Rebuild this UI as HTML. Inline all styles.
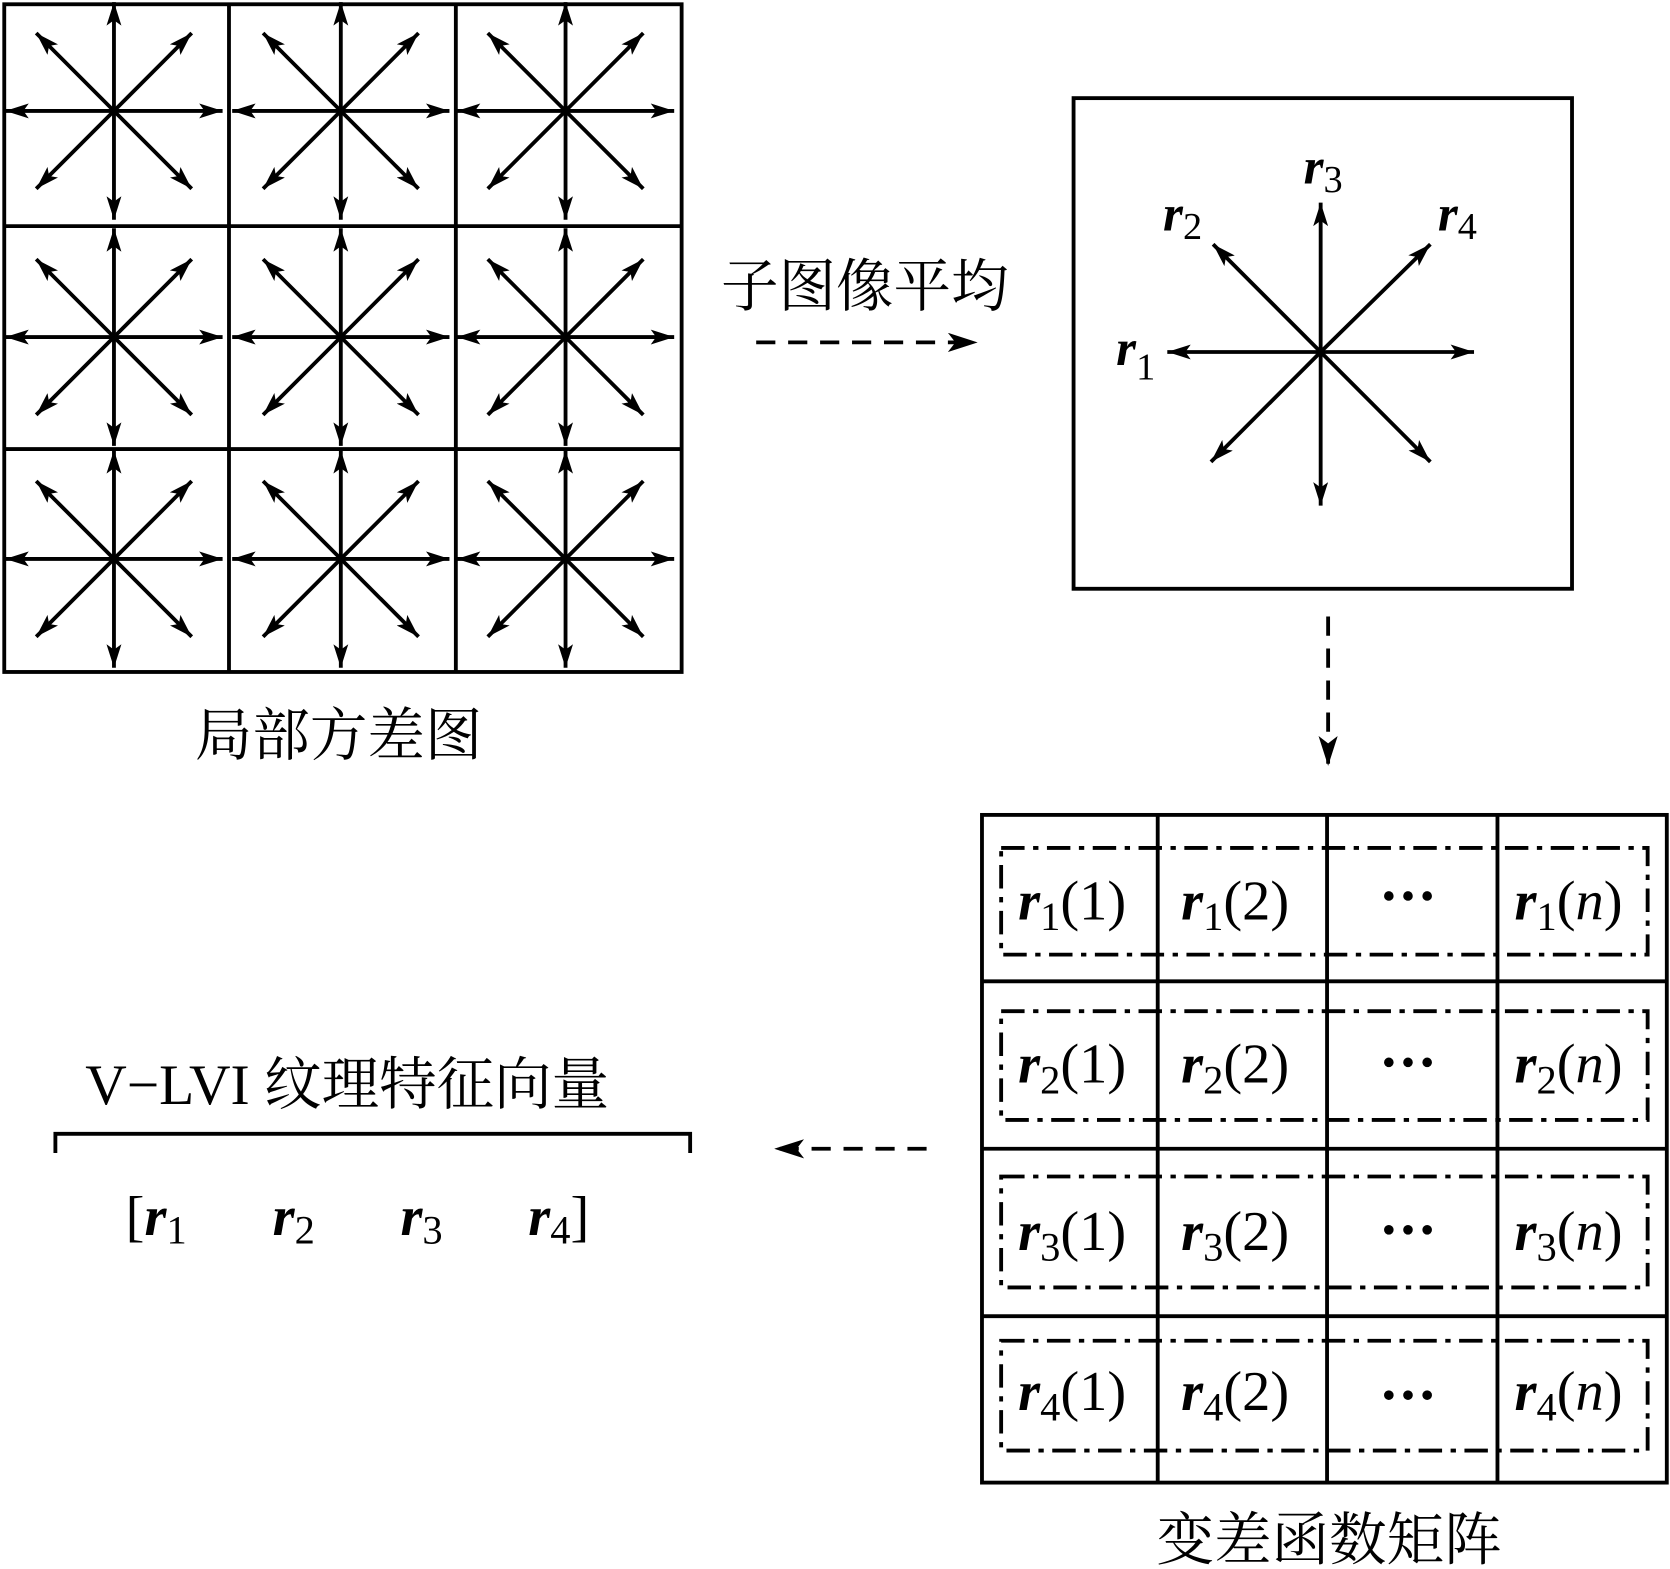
<!DOCTYPE html>
<html><head><meta charset="utf-8"><style>
html,body{margin:0;padding:0;background:#fff}
svg{display:block}
text{font-family:"Liberation Serif","Noto Serif CJK SC",serif;fill:#000}
.cjk{font-family:"Liberation Serif","Noto Serif CJK SC","Noto Sans CJK SC",serif}
.r{font-weight:bold;font-style:italic}
</style></head><body>
<svg width="1670" height="1569" viewBox="0 0 1568 1471" preserveAspectRatio="none" xmlns="http://www.w3.org/2000/svg">
<defs>
<marker id="a" viewBox="0 0 22 14" refX="22" refY="7" markerWidth="22" markerHeight="14" markerUnits="userSpaceOnUse" orient="auto"><path d="M0,0 L22,7 L0,14 L5,7 Z" fill="#000"/></marker>
<marker id="b" viewBox="0 0 28 18" refX="28" refY="9" markerWidth="28" markerHeight="18" markerUnits="userSpaceOnUse" orient="auto"><path d="M0,0 L28,9 L0,18 L7,9 Z" fill="#000"/></marker>
<g id="star" stroke="#000" stroke-width="3.6" fill="none">
<line x1="0" y1="0" x2="102" y2="0" marker-end="url(#a)"/>
<line x1="0" y1="0" x2="-102" y2="0" marker-end="url(#a)"/>
<line x1="0" y1="0" x2="0" y2="102" marker-end="url(#a)"/>
<line x1="0" y1="0" x2="0" y2="-102" marker-end="url(#a)"/>
<line x1="0" y1="0" x2="73" y2="73" marker-end="url(#a)"/>
<line x1="0" y1="0" x2="-73" y2="73" marker-end="url(#a)"/>
<line x1="0" y1="0" x2="73" y2="-73" marker-end="url(#a)"/>
<line x1="0" y1="0" x2="-73" y2="-73" marker-end="url(#a)"/>
</g>
<g id="dots" fill="#000"><circle cx="-18" cy="0" r="4.5"/><circle cx="0" cy="0" r="4.5"/><circle cx="18" cy="0" r="4.5"/></g>
</defs>
<g stroke="#000" stroke-width="3.6" fill="none">
<rect x="4" y="4" width="636" height="626"/>
<line x1="215" y1="4" x2="215" y2="630"/><line x1="428" y1="4" x2="428" y2="630"/>
<line x1="4" y1="212" x2="640" y2="212"/><line x1="4" y1="421" x2="640" y2="421"/>
</g>
<use href="#star" x="107" y="104"/><use href="#star" x="320" y="104"/><use href="#star" x="531" y="104"/>
<use href="#star" x="107" y="316"/><use href="#star" x="320" y="316"/><use href="#star" x="531" y="316"/>
<use href="#star" x="107" y="524"/><use href="#star" x="320" y="524"/><use href="#star" x="531" y="524"/>
<text x="318" y="708" font-size="54" text-anchor="middle" class="cjk">局部方差图</text>
<text x="812" y="287" font-size="54" text-anchor="middle" class="cjk">子图像平均</text>
<line x1="710" y1="321" x2="918" y2="321" stroke="#000" stroke-width="3.6" stroke-dasharray="18,12" marker-end="url(#b)"/>
<rect x="1008" y="92" width="468" height="460" stroke="#000" stroke-width="3.6" fill="none"/>
<g stroke="#000" stroke-width="3.6">
<line x1="1240" y1="330" x2="1240" y2="190" marker-end="url(#a)"/>
<line x1="1240" y1="330" x2="1240" y2="474" marker-end="url(#a)"/>
<line x1="1240" y1="330" x2="1096" y2="330" marker-end="url(#a)"/>
<line x1="1240" y1="330" x2="1384" y2="330" marker-end="url(#a)"/>
<line x1="1240" y1="330" x2="1139" y2="229" marker-end="url(#a)"/>
<line x1="1240" y1="330" x2="1343" y2="229" marker-end="url(#a)"/>
<line x1="1240" y1="330" x2="1137" y2="433" marker-end="url(#a)"/>
<line x1="1240" y1="330" x2="1343" y2="433" marker-end="url(#a)"/>
</g>
<text x="1224" y="172" font-size="48"><tspan class="r">r</tspan><tspan font-size="36" dy="8">3</tspan></text>
<text x="1092" y="216" font-size="48"><tspan class="r">r</tspan><tspan font-size="36" dy="8">2</tspan></text>
<text x="1350" y="216" font-size="48"><tspan class="r">r</tspan><tspan font-size="36" dy="8">4</tspan></text>
<text x="1048" y="342" font-size="48"><tspan class="r">r</tspan><tspan font-size="36" dy="14">1</tspan></text>
<line x1="1247" y1="578" x2="1247" y2="718" stroke="#000" stroke-width="3.6" stroke-dasharray="18,12" marker-end="url(#b)"/>
<g stroke="#000" stroke-width="3.6" fill="none">
<rect x="922" y="764" width="643" height="626"/>
<line x1="1087" y1="764" x2="1087" y2="1390"/><line x1="1246" y1="764" x2="1246" y2="1390"/><line x1="1406" y1="764" x2="1406" y2="1390"/>
<line x1="922" y1="920" x2="1565" y2="920"/><line x1="922" y1="1077" x2="1565" y2="1077"/><line x1="922" y1="1234" x2="1565" y2="1234"/>
</g>
<g stroke="#000" stroke-width="3.6" fill="none" stroke-dasharray="22,8,5,8">
<rect x="940" y="795" width="607" height="100"/>
<rect x="940" y="948" width="607" height="102"/>
<rect x="940" y="1103" width="607" height="104"/>
<rect x="940" y="1257" width="607" height="103"/>
</g>
<g font-size="53">
<text x="956" y="862"><tspan class="r">r</tspan><tspan font-size="38" dy="10">1</tspan><tspan dy="-10">(1)</tspan></text>
<text x="1109" y="862"><tspan class="r">r</tspan><tspan font-size="38" dy="10">1</tspan><tspan dy="-10">(2)</tspan></text>
<text x="1422" y="862"><tspan class="r">r</tspan><tspan font-size="38" dy="10">1</tspan><tspan dy="-10">(</tspan><tspan font-style="italic">n</tspan>)</text>
<text x="956" y="1015"><tspan class="r">r</tspan><tspan font-size="38" dy="10">2</tspan><tspan dy="-10">(1)</tspan></text>
<text x="1109" y="1015"><tspan class="r">r</tspan><tspan font-size="38" dy="10">2</tspan><tspan dy="-10">(2)</tspan></text>
<text x="1422" y="1015"><tspan class="r">r</tspan><tspan font-size="38" dy="10">2</tspan><tspan dy="-10">(</tspan><tspan font-style="italic">n</tspan>)</text>
<text x="956" y="1172"><tspan class="r">r</tspan><tspan font-size="38" dy="10">3</tspan><tspan dy="-10">(1)</tspan></text>
<text x="1109" y="1172"><tspan class="r">r</tspan><tspan font-size="38" dy="10">3</tspan><tspan dy="-10">(2)</tspan></text>
<text x="1422" y="1172"><tspan class="r">r</tspan><tspan font-size="38" dy="10">3</tspan><tspan dy="-10">(</tspan><tspan font-style="italic">n</tspan>)</text>
<text x="956" y="1322"><tspan class="r">r</tspan><tspan font-size="38" dy="10">4</tspan><tspan dy="-10">(1)</tspan></text>
<text x="1109" y="1322"><tspan class="r">r</tspan><tspan font-size="38" dy="10">4</tspan><tspan dy="-10">(2)</tspan></text>
<text x="1422" y="1322"><tspan class="r">r</tspan><tspan font-size="38" dy="10">4</tspan><tspan dy="-10">(</tspan><tspan font-style="italic">n</tspan>)</text>
</g>
<use href="#dots" x="1322" y="840"/><use href="#dots" x="1322" y="996"/><use href="#dots" x="1322" y="1153"/><use href="#dots" x="1322" y="1308"/>
<text x="1248" y="1462" font-size="54" text-anchor="middle" class="cjk">变差函数矩阵</text>
<line x1="870" y1="1077" x2="727" y2="1077" stroke="#000" stroke-width="3.6" stroke-dasharray="18,12" marker-end="url(#b)"/>
<text x="80" y="1035" font-size="54" class="cjk">V−LVI 纹理特征向量</text>
<path d="M52,1081 V1063 H648 V1081" stroke="#000" stroke-width="3.6" fill="none"/>
<g font-size="53">
<text x="118" y="1158">[<tspan class="r">r</tspan><tspan font-size="38" dy="8">1</tspan></text>
<text x="256" y="1158"><tspan class="r">r</tspan><tspan font-size="38" dy="8">2</tspan></text>
<text x="376" y="1158"><tspan class="r">r</tspan><tspan font-size="38" dy="8">3</tspan></text>
<text x="496" y="1158"><tspan class="r">r</tspan><tspan font-size="38" dy="8">4</tspan><tspan dy="-8">]</tspan></text>
</g>
</svg>
</body></html>
